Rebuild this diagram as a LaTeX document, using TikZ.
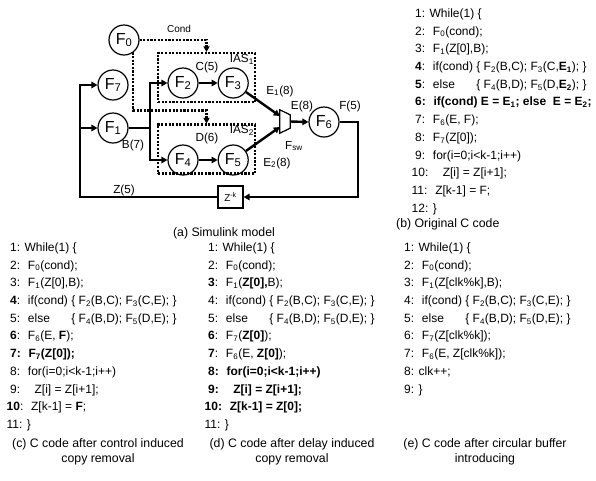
\documentclass[tikz,border=0pt]{standalone}
\usepackage{fontspec}
\setmainfont{Liberation Sans}
\usetikzlibrary{arrows.meta, positioning}

\newcommand{\sbs}[1]{\textsubscript{#1}}

\begin{document}
\begin{tikzpicture}[
    x=1pt, y=-1pt,
    node distance=19pt,
    fblock/.style={circle, draw, line width=1.2pt, minimum size=30pt, inner sep=0pt, font=\fontsize{16}{16}\selectfont},
    flow/.style={line width=2.4pt, -{Triangle[length=6pt, width=6.5pt]}},
    bus/.style={line width=2.4pt},
    ctrl/.style={line width=2.1pt, dash pattern=on 2.1pt off 1.5pt, -{Triangle[length=5.5pt, width=6pt]}},
    iasbox/.style={draw, line width=2.1pt, dash pattern=on 2.1pt off 1.5pt, minimum width=97pt, minimum height=49pt, inner sep=0pt},
    zbox/.style={draw, line width=1.2pt, minimum width=25pt, minimum height=22pt, inner sep=0pt, font=\fontsize{10}{10}\selectfont},
    lbl/.style={inner sep=1pt, font=\fontsize{11.7}{12}\selectfont},
    code/.style={align=left, anchor=north west, inner sep=0pt, font=\fontsize{12}{17.7}\selectfont},
    capt/.style={align=center, inner sep=0pt, font=\fontsize{12.3}{15}\selectfont}
  ]
    \useasboundingbox (0,0) rectangle (596,480);

    % (a) Simulink model
    \node[iasbox] (ias1) at (206.5,77.5) {};
    \node[iasbox] (ias2) at (206.5,149) {};
    \node[lbl, anchor=north east] (ias1l) at ([xshift=-1pt,yshift=-1pt]ias1.north east) {IAS\sbs{1}};
    \node[lbl, anchor=north east] (ias2l) at ([xshift=-1pt,yshift=-1pt]ias2.north east) {IAS\sbs{2}};

    \node[fblock] (F0) at (124,40) {F\sbs{0}};
    \node[fblock] (F7) at (113,85) {F\sbs{7}};
    \node[fblock] (F1) at (113,128) {F\sbs{1}};
    \node[fblock] (F2) at (183,83) {F\sbs{2}};
    \node[fblock, right=of F2] (F3) {F\sbs{3}};
    \node[fblock] (F4) at (183,160) {F\sbs{4}};
    \node[fblock, right=of F4] (F5) {F\sbs{5}};
    \node[fblock] (F6) at (324,122) {F\sbs{6}};
    \node[zbox] (zk) at (230.5,197) {Z\textsuperscript{-k}};

    % switch
    \node[minimum width=10pt, minimum height=23pt, inner sep=0pt] (sw) at (285,121.5) {};
    \draw[line width=1.2pt, fill=white] (sw.north west) -- ([yshift=-5pt]sw.north east)
      -- ([yshift=5pt]sw.south east) -- (sw.south west) -- cycle;
    \node[lbl] (swl) at (294,146) {F\sbs{sw}};

    \coordinate (br) at (150,128);
    \coordinate (fb) at (358,122);
    \coordinate (zb) at (80,197);

    \draw[ctrl] (F0.east) -| (ias1.north);
    \draw[ctrl] (F0.-53) |- ([yshift=13pt]ias2.north) -- (ias2.north);

    \draw[flow] (F1.east) -- (br) |- (F2.west);
    \draw[flow] (br) |- (F4.west);
    \draw[flow] (F2) -- (F3);
    \draw[flow] (F4) -- (F5);
    \draw[flow] (F3) -- ([yshift=5.5pt]sw.west);
    \draw[flow] (F5) -- ([yshift=-5.5pt]sw.west);
    \draw[flow] (sw.east) -- (F6.west);
    \draw[flow] (F6.east) -- (fb) |- (zk.east);
    \draw[flow] (zk.west) -- (zb) |- (F7.west);
    \draw[flow] (zb |- F1.west) -- (F1.west);

    \node[lbl, font=\fontsize{10}{10}\selectfont] (cond) at (179,29) {Cond};
    \node[lbl] (c5) at (207,67) {C(5)};
    \node[lbl] (d6) at (207,138) {D(6)};
    \node[lbl] (b7) at (133,145) {B(7)};
    \node[lbl] (e1) at (280,91) {E\sbs{1}(8)};
    \node[lbl] (e2) at (277,163) {E\sbs{2}(8)};
    \node[lbl] (e8) at (302,106) {E(8)};
    \node[lbl] (f5) at (350,106) {F(5)};
    \node[lbl] (z5) at (124,190) {Z(5)};
    \node[capt] (capa) at (224,233) {(a) Simulink model};

    % (b) original code
    \node[code] (codeb) at (415,8.5) {%
      1: While(1) \{\\
      2: \ F\sbs{0}(cond);\\
      3: \ F\sbs{1}(Z[0],B);\\
      \textbf{4}: \ if(cond) \{ F\sbs{2}(B,C); F\sbs{3}(C,\textbf{E\sbs{1}}); \}\\
      \textbf{5}: \ \rlap{else}\phantom{if(cond)} \{ F\sbs{4}(B,D); F\sbs{5}(D,\textbf{E\sbs{2}}); \}\\
      \textbf{6: \ if(cond) E = E\sbs{1}; else \ E = E\sbs{2};}\\
      7: \ F\sbs{6}(E, F);\\
      8: \ F\sbs{7}(Z[0]);\\
      9: \ for(i=0;i<k-1;i++)\\
      \hspace{-3.5pt}10: \ \ \ Z[i] = Z[i+1];\\
      \hspace{-3.5pt}11: \ Z[k-1] = F;\\
      \hspace{-3.5pt}12: \}};
    \node[capt, anchor=west] (capb) at (396,224) {(b) Original C code};

    % (c) control induced copy removal
    \node[code] (codec) at (10,242.5) {%
      1: While(1) \{\\
      2: \ F\sbs{0}(cond);\\
      3: \ F\sbs{1}(Z[0],B);\\
      \textbf{4}: \ if(cond) \{ F\sbs{2}(B,C); F\sbs{3}(C,E); \}\\
      5: \ \rlap{else}\phantom{if(cond)} \{ F\sbs{4}(B,D); F\sbs{5}(D,E); \}\\
      \textbf{6}: \ F\sbs{6}(E, \textbf{F});\\
      \textbf{7: \ F\sbs{7}(Z[0]);}\\
      8: \ for(i=0;i<k-1;i++)\\
      9: \ \ \ Z[i] = Z[i+1];\\
      \hspace{-3.5pt}\textbf{10}: \ Z[k-1] = \textbf{F};\\
      \hspace{-3.5pt}11: \}};
    \node[capt] (capc) at (98,452) {(c) C code after control induced\\copy removal};

    % (d) delay induced copy removal
    \node[code] (coded) at (208,242.5) {%
      1: While(1) \{\\
      2: \ F\sbs{0}(cond);\\
      \textbf{3}: \ F\sbs{1}(\textbf{Z[0],}B);\\
      4: \ if(cond) \{ F\sbs{2}(B,C); F\sbs{3}(C,E); \}\\
      5: \ \rlap{else}\phantom{if(cond)} \{ F\sbs{4}(B,D); F\sbs{5}(D,E); \}\\
      \textbf{6}: \ F\sbs{7}(\textbf{Z[0]});\\
      \textbf{7}: \ F\sbs{6}(E, \textbf{Z[0]});\\
      \textbf{8: \ for(i=0;i<k-1;i++)}\\
      \textbf{9: \ \ \ Z[i] = Z[i+1];}\\
      \hspace{-3.5pt}\textbf{10: \ Z[k-1] = Z[0];}\\
      \hspace{-3.5pt}11: \}};
    \node[capt] (capd) at (292,452) {(d) C code after delay induced\\copy removal};

    % (e) circular buffer
    \node[code] (codee) at (404,242.5) {%
      1: While(1) \{\\
      2: \ F\sbs{0}(cond);\\
      3: \ F\sbs{1}(Z[clk\%k],B);\\
      4: \ if(cond) \{ F\sbs{2}(B,C); F\sbs{3}(C,E); \}\\
      5: \ \rlap{else}\phantom{if(cond)} \{ F\sbs{4}(B,D); F\sbs{5}(D,E); \}\\
      6: \ F\sbs{7}(Z[clk\%k]);\\
      7: \ F\sbs{6}(E, Z[clk\%k]);\\
      8: clk++;\\
      9: \}};
    \node[capt] (cape) at (485,452) {(e) C code after circular buffer\\introducing};
  \end{tikzpicture}
\end{document}
